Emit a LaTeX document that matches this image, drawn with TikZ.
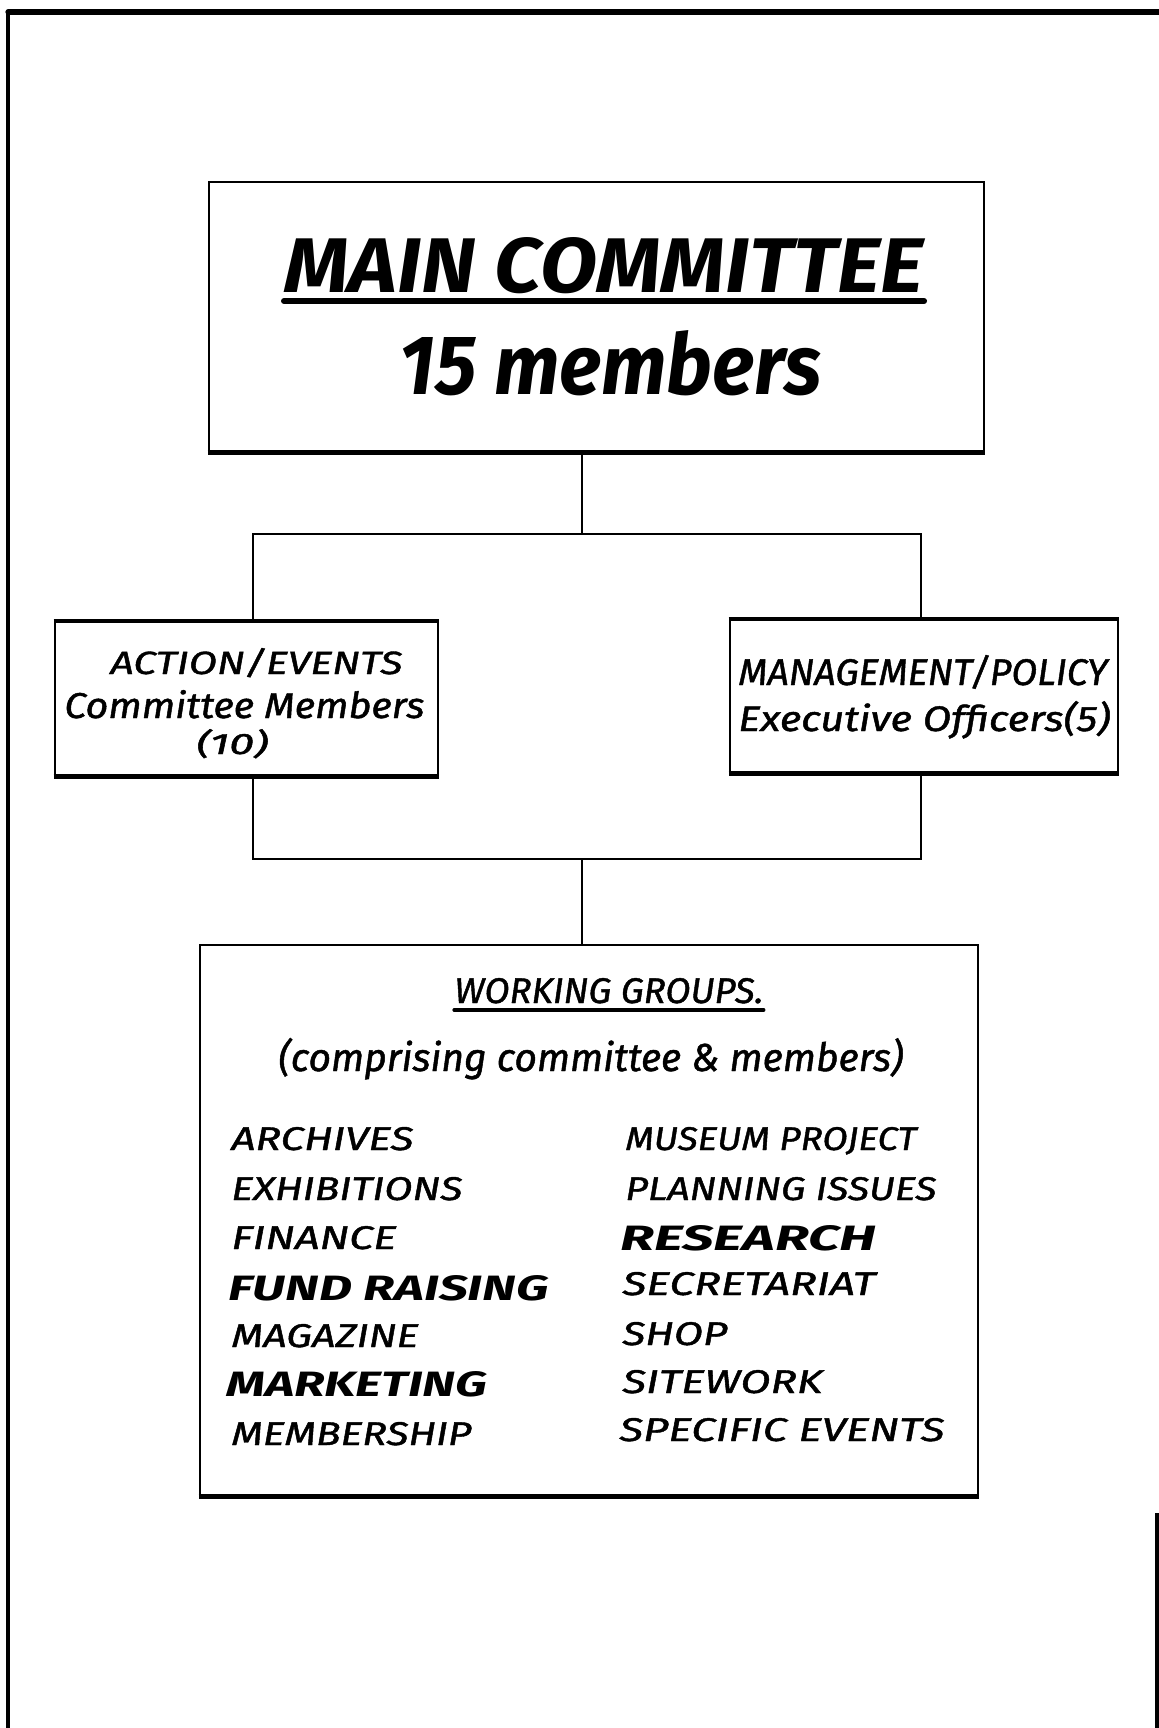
\documentclass[tikz,border=0pt]{standalone}
\usepackage{fontspec}
\setmainfont{Fira Sans}
% pen lettering: italic with a slightly heavier stroke
\newfontfamily\pen{Fira Sans}[ItalicFeatures={FakeBold=1.2}]
\usepackage{graphicx}
% 1 unit of the drawing grid
\newlength\upx
\setlength\upx{0.5pt}
% lettering set to a given width and height
\newcommand{\hand}[3]{\resizebox{#1\upx}{#2}{#3}}
\begin{document}
\begin{tikzpicture}[x=0.5pt,y=-0.5pt,
  box/.style={draw, line width=1.3pt, inner sep=0pt},
  heavy/.style={line width=2.4pt},
  link/.style={line width=1.1pt},
  lbl/.style={inner sep=0pt, anchor=base west},
  ]
\useasboundingbox (0,0) rectangle (1159,1728);
\fill[white] (0,0) rectangle (1159,1728);

% page frame
\draw[line width=2pt] (8,1728) -- (8,12);
\draw[line width=2.6pt, line cap=round] (8,12) -- (1159,12);
\draw[line width=1.6pt] (1157,1513) -- (1157,1728);

% boxes
\node[box, minimum width=387.5pt, minimum height=134.5pt] (main) at (596.5,316.5) {};
\node[box, minimum width=191.5pt, minimum height=76.5pt] (lbox) at (246.5,698.5) {};
\node[box, minimum width=194pt, minimum height=76pt] (rbox) at (924,696) {};
\node[box, minimum width=389pt, minimum height=275pt] (wg) at (589,1220) {};
\foreach \b in {main,lbox,rbox,wg}
  \draw[heavy] (\b.south west) -- (\b.south east);
\draw[line width=2pt] (lbox.north west) -- (lbox.north east);
\draw[line width=2pt] (rbox.north west) -- (rbox.north east);

% connectors
\coordinate (mid) at (582,534);
\coordinate (tl) at (253,534);
\coordinate (tr) at (921,534);
\coordinate (bl) at (253,859);
\coordinate (br) at (921,859);
\coordinate (midlow) at (582,859);
\draw[link] (main.south -| mid) -- (mid);
\draw[link] (lbox.north -| tl) -- (tl) -- (tr) -- (rbox.north -| tr);
\draw[link] (lbox.south -| bl) -- (bl) -- (br) -- (rbox.south -| br);
\draw[link] (midlow) -- (wg.north -| midlow);

% main committee
\node[lbl] (mc) at (284,292) {\hand{639}{55\upx}{\bfseries\itshape MAIN COMMITTEE}};
\draw[line width=3pt, line cap=round] ([yshift=-4.5pt]mc.base west) -- ([yshift=-4.5pt]mc.base east);
\node[lbl] (mem) at (399,394) {\hand{422}{64\upx}{\bfseries\itshape 15 members}};

% side committees
\node[lbl] (ae) at (110,674) {\hand{292}{26\upx}{\pen\itshape ACTION/EVENTS}};
\node[lbl] (cm) at (64,718) {\hand{360}{28\upx}{\pen\itshape Committee Members}};
\node[lbl] (ten) at (196,754) {\hand{72}{25\upx}{\pen\itshape (10)}};
\node[lbl] (mp) at (738,685) {\hand{369}{30\upx}{\pen\itshape MANAGEMENT/POLICY}};
\node[lbl] (eo) at (738,731) {\hand{372}{30\upx}{\pen\itshape Executive Officers(5)}};

% working groups
\node[lbl] (wgt) at (454,1003) {\hand{309}{25\upx}{\pen\itshape WORKING GROUPS.}};
\draw[line width=1.6pt, line cap=round] ([yshift=-3.5pt]wgt.base west) -- ([yshift=-3.5pt]wgt.base east);
\node[lbl] (cmp) at (278,1071) {\hand{625}{!}{\pen\itshape (comprising committee \& members)}};

\node[lbl] (g1) at (231,1150) {\hand{182}{23\upx}{\pen\itshape ARCHIVES}};
\node[lbl] (g2) at (231,1200) {\hand{231}{23\upx}{\pen\itshape EXHIBITIONS}};
\node[lbl] (g3) at (231,1249) {\hand{165}{23\upx}{\pen\itshape FINANCE}};
\node[lbl] (g4) at (228,1300) {\hand{320}{25\upx}{\bfseries\itshape FUND RAISING}};
\node[lbl] (g5) at (231,1347) {\hand{187}{23\upx}{\pen\itshape MAGAZINE}};
\node[lbl] (g6) at (226,1396) {\hand{261}{25\upx}{\bfseries\itshape MARKETING}};
\node[lbl] (g7) at (231,1445) {\hand{240}{23\upx}{\pen\itshape MEMBERSHIP}};

\node[lbl] (h1) at (625,1150) {\hand{291}{23\upx}{\pen\itshape MUSEUM PROJECT}};
\node[lbl] (h2) at (625,1200) {\hand{311}{23\upx}{\pen\itshape PLANNING ISSUES}};
\node[lbl] (h3) at (620,1250) {\hand{256}{25\upx}{\bfseries\itshape RESEARCH}};
\node[lbl] (h4) at (622,1295) {\hand{253}{23\upx}{\pen\itshape SECRETARIAT}};
\node[lbl] (h5) at (622,1345) {\hand{105}{23\upx}{\pen\itshape SHOP}};
\node[lbl] (h6) at (622,1393) {\hand{200}{23\upx}{\pen\itshape SITEWORK}};
\node[lbl] (h7) at (619,1441) {\hand{325}{23\upx}{\pen\itshape SPECIFIC EVENTS}};
\end{tikzpicture}
\end{document}
